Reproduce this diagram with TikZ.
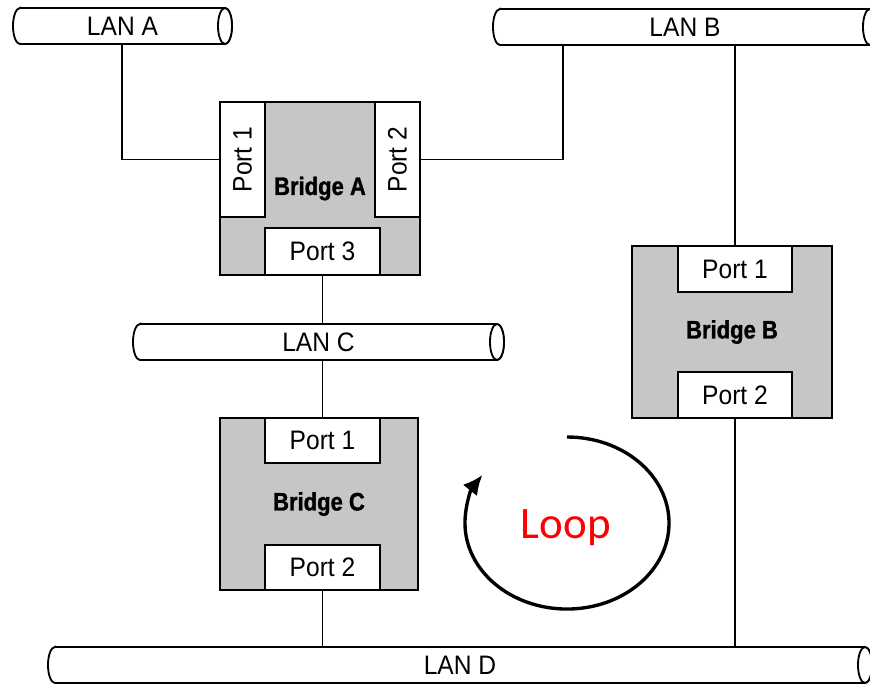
\documentclass[tikz,border=0pt]{standalone}
\usepackage{fontspec}
\setmainfont{Liberation Sans}
\newfontfamily\regcond[FakeStretch=0.92]{Liberation Sans}
\newfontfamily\boldcond[FakeStretch=0.87,FakeBold=1.2]{Liberation Sans Bold}
\newfontfamily\loopfont{Carlito}
\usetikzlibrary{arrows.meta,calc}

\tikzset{
  x=0.025cm, y=-0.025cm,
  every node/.style={font=\regcond\fontsize{19}{20}\selectfont, inner sep=0pt},
  bridge/.style={draw, line width=1.3pt, fill=gray!45, font=\boldcond\fontsize{18}{20}\selectfont},
  port/.style={draw, line width=1.3pt, fill=white},
  pipe/.style={draw, line width=1.3pt, fill=white},
  wire/.style={line width=1pt},
  looparrow/.style={line width=2.4pt, -{Latex[length=14pt,width=13pt]}},
}

\newcommand\lanpipe[5]{%
  \draw[pipe] (#2+7,#4-18) -- (#3,#4-18)
     arc[start angle=90,end angle=-90,x radius=0.175cm,y radius=0.45cm]
     -- (#2+7,#4+18)
     arc[start angle=270,end angle=90,x radius=0.175cm,y radius=0.45cm] -- cycle;
  \draw[pipe] (#3,#4) ellipse[x radius=0.175cm,y radius=0.45cm];
  \node[minimum width={(#3+7-#2)*0.025cm}, minimum height=0.9cm] (#1) at ({(#2+#3+7)/2},#4) {#5};
}

\begin{document}
\begin{tikzpicture}
\fill[white] (0,0) rectangle (870,685);
\useasboundingbox (0,0) rectangle (870,685);

% LANs
\lanpipe{LANA}{13}{225}{26}{LAN A}
\lanpipe{LANB}{493}{870}{27}{LAN B}
\lanpipe{LANC}{133}{497}{342}{LAN C}
\lanpipe{LAND}{48}{865}{665}{LAN D}

% Bridge A
\node[bridge, minimum width=5cm, minimum height=4.325cm] (bA) at (320,188.5) {Bridge A};
\node[port, minimum width=1.125cm, minimum height=2.875cm] (bAp1) at (242.5,159.5) {\rotatebox{90}{Port 1}};
\node[port, minimum width=1.125cm, minimum height=2.875cm] (bAp2) at (397.5,159.5) {\rotatebox{90}{Port 2}};
\node[port, minimum width=2.875cm, minimum height=1.175cm] (bAp3) at (322.5,251.5) {Port 3};

% Bridge B
\node[bridge, minimum width=5cm, minimum height=4.3cm] (bB) at (732,332) {Bridge B};
\node[port, minimum width=2.85cm, minimum height=1.15cm] (bBp1) at (735,269) {Port 1};
\node[port, minimum width=2.85cm, minimum height=1.15cm] (bBp2) at (735,395) {Port 2};

% Bridge C
\node[bridge, minimum width=4.95cm, minimum height=4.3cm] (bC) at (319,504) {Bridge C};
\node[port, minimum width=2.875cm, minimum height=1.125cm] (bCp1) at (322.5,440.5) {Port 1};
\node[port, minimum width=2.875cm, minimum height=1.125cm] (bCp2) at (322.5,567.5) {Port 2};

% connectors
\draw[wire] (bAp1.west) -| (122,0 |- LANA.south);
\draw[wire] (bAp2.east) -| (563,0 |- LANB.south);
\draw[wire] (bAp3.south) -- (bAp3.south |- LANC.north);
\draw[wire] (bCp1.north |- LANC.south) -- (bCp1.north);
\draw[wire] (bCp2.south) -- (bCp2.south |- LAND.north);
\draw[wire] (bBp1.north |- LANB.south) -- (bBp1.north);
\draw[wire] (bBp2.south) -- (bBp2.south |- LAND.north);

% loop
\draw[looparrow] (567,437) arc[start angle=90,end angle=-214,x radius=2.55cm,y radius=2.15cm];
\node[font=\loopfont\fontsize{32}{34}\selectfont, text=red, anchor=base] (looplabel) at (566,538) {Loop};
\end{tikzpicture}
\end{document}
